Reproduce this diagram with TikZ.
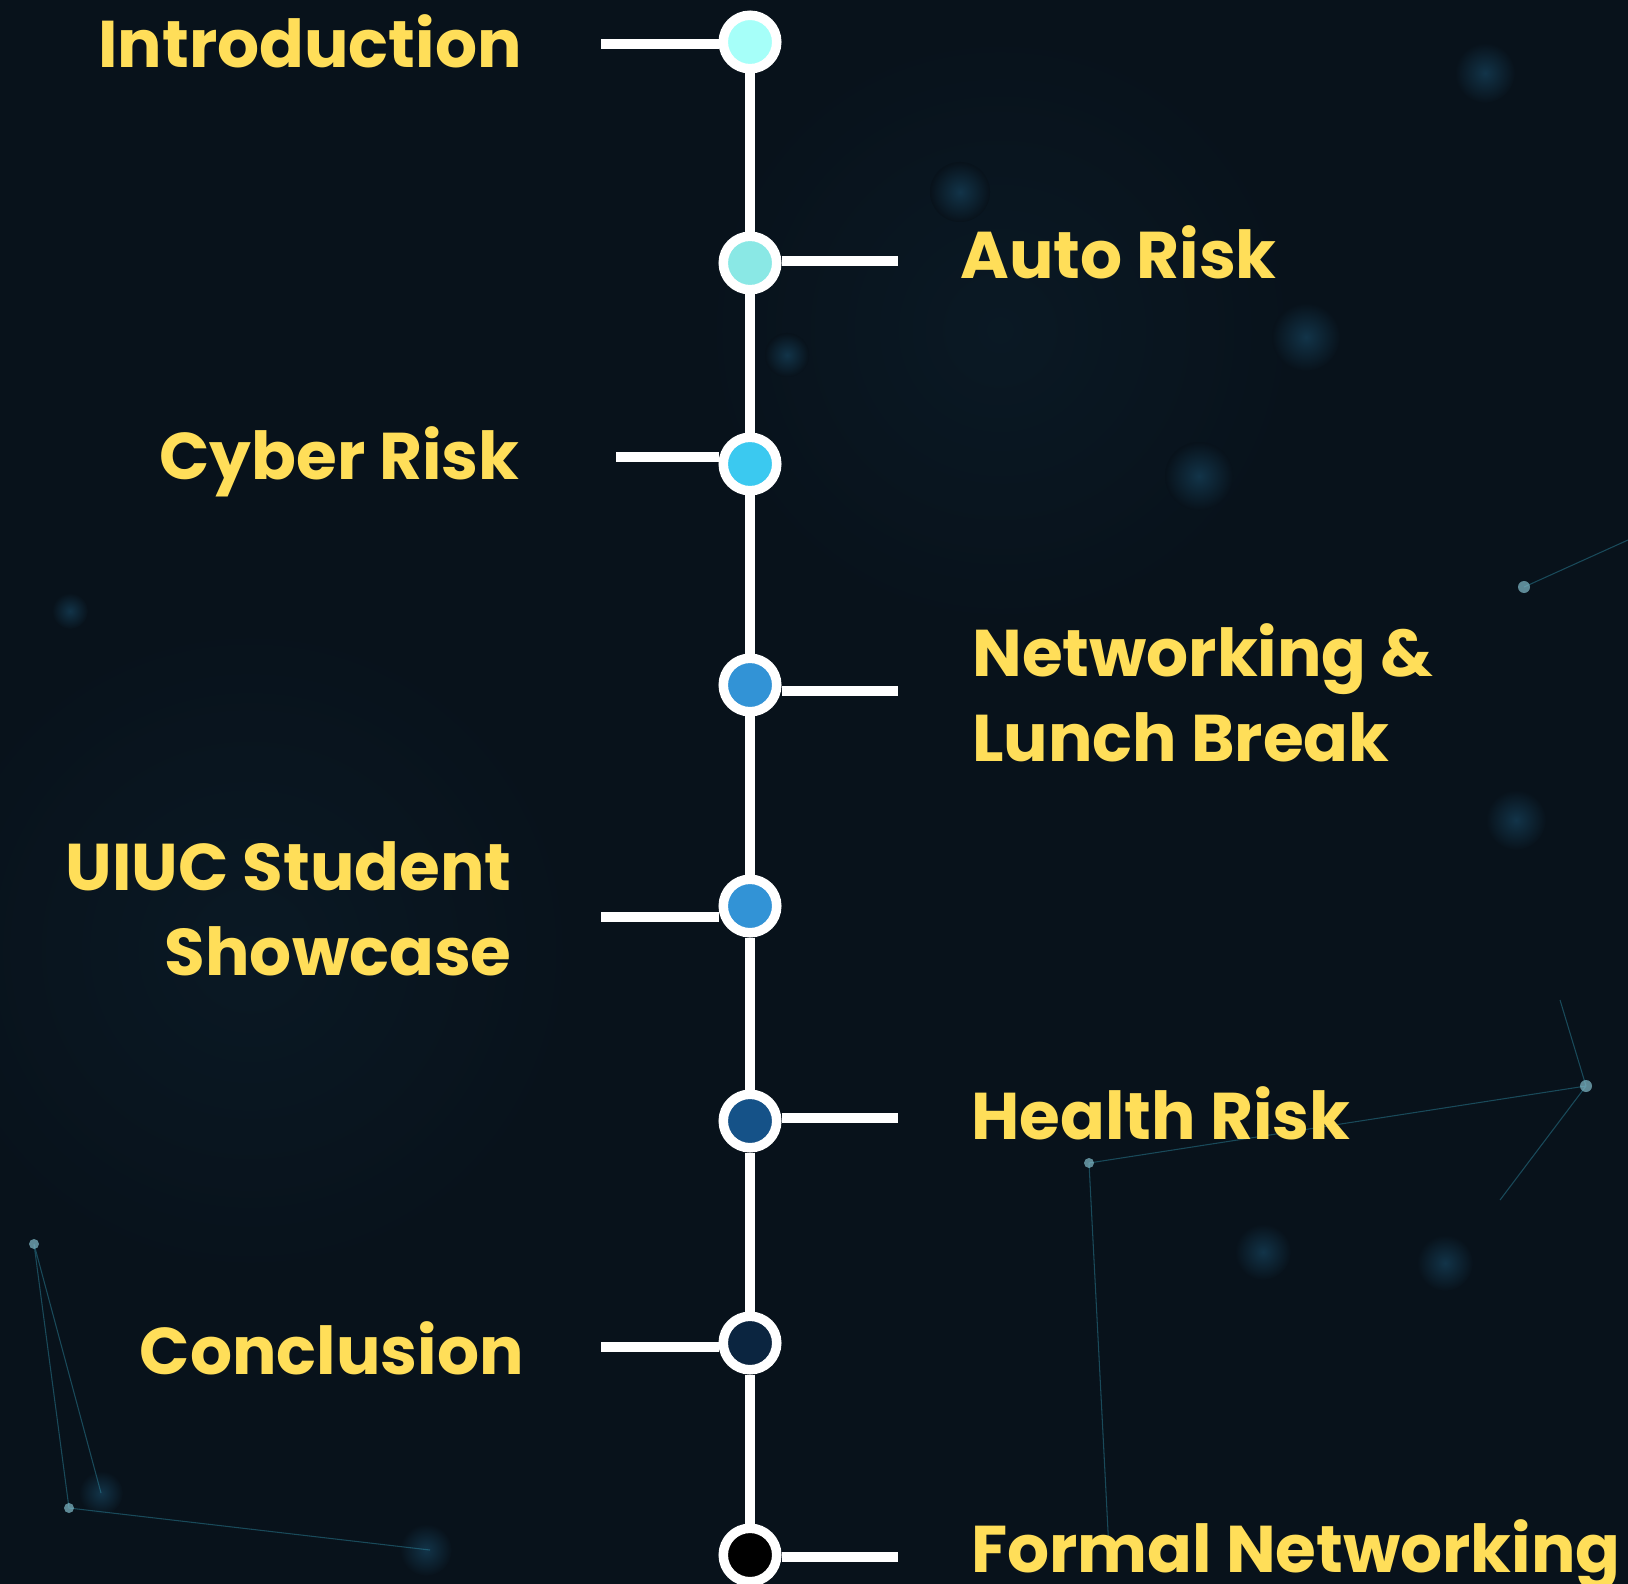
\documentclass[tikz,border=0pt]{standalone}
\usepackage{fontspec}
\setmainfont{Poppins}
\usetikzlibrary{positioning, calc}
\definecolor{bgnavy}{HTML}{08121B}
\definecolor{glow}{HTML}{123449}
\definecolor{netline}{HTML}{2E8FA8}
\definecolor{labelyellow}{HTML}{FFDE59}
\definecolor{introcyan}{HTML}{A6FFF9}
\definecolor{autoteal}{HTML}{8AE8E5}
\definecolor{cyberblue}{HTML}{3BC9F0}
\definecolor{midblue}{HTML}{3293D6}
\definecolor{healthblue}{HTML}{155288}
\definecolor{conclnavy}{HTML}{0B2540}

\begin{document}
\begin{tikzpicture}[x=0.02cm, y=-0.02cm,
    dot/.style={circle, draw=white, line width=0.19cm, minimum size=1.07cm, inner sep=0pt},
    spine/.style={white, line width=0.2cm},
    tick/.style={white, line width=0.2cm},
    lbl/.style={text=labelyellow, inner sep=0pt, font=\bfseries\fontsize{37.6}{48}\selectfont},
    bokeh/.style={inner color=glow, outer color=bgnavy}]
    \fill[bgnavy] (0,0) rectangle (1628,1584);
    \useasboundingbox (0,0) rectangle (1628,1584);
    % background glow and network
    \shade[inner color=bgnavy!80!glow, outer color=bgnavy] (250,950) circle (330);
    \shade[inner color=bgnavy!80!glow, outer color=bgnavy] (1000,330) circle (300);
    \shade[bokeh] (960,192) circle (30);
    \shade[bokeh] (787,355) circle (22);
    \shade[bokeh] (1199,476) circle (34);
    \shade[bokeh] (1485,73) circle (30);
    \shade[bokeh] (70,611) circle (18);
    \shade[bokeh] (1306,337) circle (34);
    \shade[bokeh] (1516,820) circle (30);
    \shade[bokeh] (426,1550) circle (26);
    \shade[bokeh] (101,1493) circle (22);
    \shade[bokeh] (1263,1252) circle (28);
    \shade[bokeh] (1445,1263) circle (28);
    \draw[netline, opacity=0.45, line width=0.6pt] (34,1244) -- (69,1508) (34,1244) -- (101,1493)
        (69,1508) -- (430,1550) (1089,1163) -- (1110,1570)
        (1089,1163) -- (1586,1086) (1586,1086) -- (1500,1200) (1586,1086) -- (1560,1000)
        (1524,587) -- (1628,540);
    \fill[netline!60!white, opacity=0.7] (34,1244) circle (5) (69,1508) circle (5)
        (1089,1163) circle (5) (1586,1086) circle (6) (1524,587) circle (6);

    \node[dot, fill=introcyan] (c1) at (750,42) {};
    \node[dot, fill=autoteal] (c2) at (750,263) {};
    \node[dot, fill=cyberblue] (c3) at (750,464) {};
    \node[dot, fill=midblue] (c4) at (750,685) {};
    \node[dot, fill=midblue] (c5) at (750,906) {};
    \node[dot, fill=healthblue] (c6) at (750,1121) {};
    \node[dot, fill=conclnavy] (c7) at (750,1343) {};
    \node[dot, fill=black] (c8) at (750,1555) {};

    \draw[spine] (c1) -- (c2) -- (c3) -- (c4) -- (c5) -- (c6) -- (c7) -- (c8);

    \coordinate (e1) at (601,44);
    \coordinate (e2) at (898,261);
    \coordinate (e3) at (616,457);
    \coordinate (e4) at (898,691);
    \coordinate (e5) at (601,917);
    \coordinate (e6) at (898,1118);
    \coordinate (e7) at (601,1347);
    \coordinate (e8) at (898,1557);
    \draw[tick] (c1.west |- e1) -- (e1);
    \draw[tick] (c2.east |- e2) -- (e2);
    \draw[tick] (c3.west |- e3) -- (e3);
    \draw[tick] (c4.east |- e4) -- (e4);
    \draw[tick] (c5.west |- e5) -- (e5);
    \draw[tick] (c6.east |- e6) -- (e6);
    \draw[tick] (c7.west |- e7) -- (e7);
    \draw[tick] (c8.east |- e8) -- (e8);

    \node[lbl, anchor=base east] (t1) at (522,68) {Introduction};
    \node[lbl, anchor=base west] (t2) at (960,279) {Auto Risk};
    \node[lbl, anchor=base east] (t3) at (520,479) {Cyber Risk};
    \node[lbl, anchor=base west, align=left] (t4) at (972,761) {Networking \&\\Lunch Break};
    \node[lbl, anchor=base east, align=right] (t5) at (512,975) {UIUC Student\\Showcase};
    \node[lbl, anchor=base west] (t6) at (971,1139) {Health Risk};
    \node[lbl, anchor=base east] (t7) at (524,1374) {Conclusion};
    \node[lbl, anchor=base west] (t8) at (971,1572) {Formal Networking};
\end{tikzpicture}
\end{document}
